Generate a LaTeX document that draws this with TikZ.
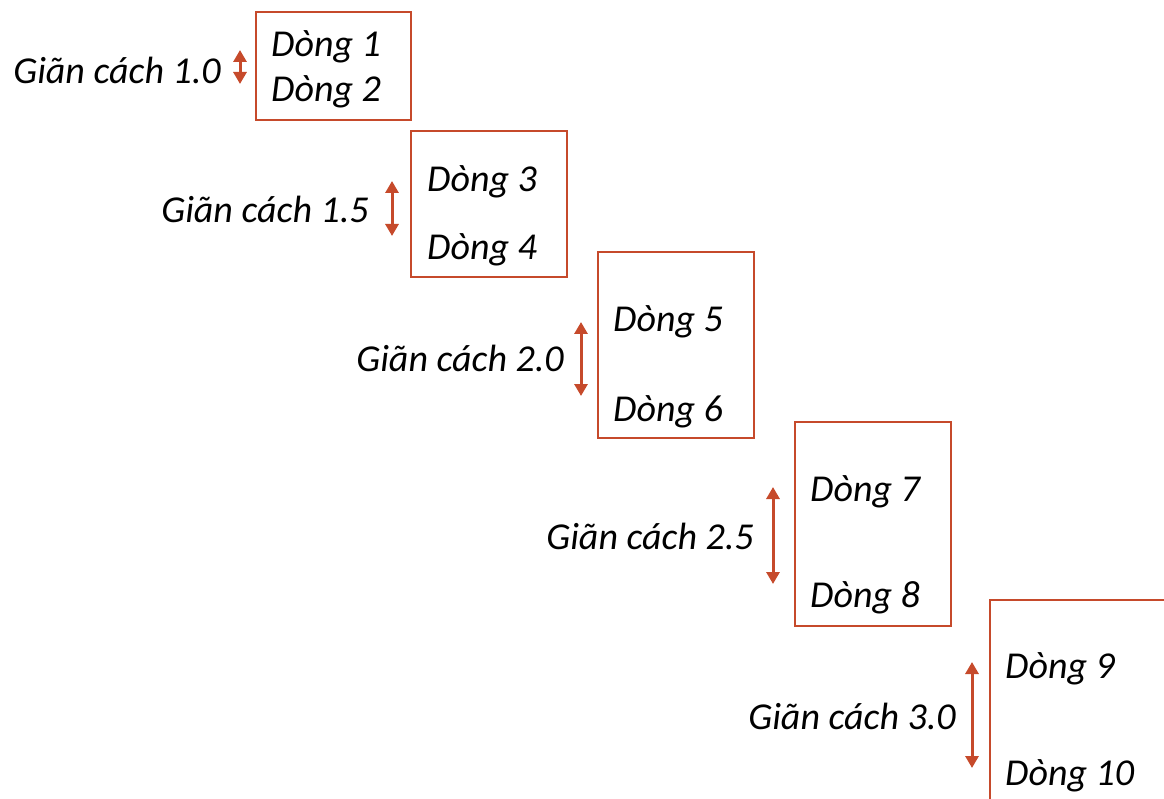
\documentclass[tikz,border=0pt]{standalone}
\usepackage{fontspec}
\setmainfont{Carlito}
\usetikzlibrary{arrows.meta}
\definecolor{accent}{HTML}{C64A2B}
\tikzset{
  box/.style={draw=accent, line width=1.6pt},
  linetext/.style={anchor=west, inner sep=0pt, font=\fontsize{38}{45}\selectfont\itshape},
  gaptext/.style={anchor=east, inner sep=0pt, font=\fontsize{38}{45}\selectfont\itshape},
  gaparrow/.style={draw=accent, line width=3pt, {Triangle[width=13pt,length=12pt]}-{Triangle[width=13pt,length=12pt]}}
}
\begin{document}
\begin{tikzpicture}[x=1pt,y=-1pt]
\useasboundingbox (0,0) rectangle (1164,799);
\clip (0,0) rectangle (1164,799);
% boxes
\draw[box] (256,12) rectangle (411,120);
\draw[box] (411,131) rectangle (567,277);
\draw[box] (598,252) rectangle (754,438);
\draw[box] (795,422) rectangle (951,626);
\draw[box] (990,600) rectangle (1200,840);
% line texts
\node[linetext] (l1) at (271,47) {Dòng 1};
\node[linetext] (l2) at (271,92) {Dòng 2};
\node[linetext] (l3) at (427,182) {Dòng 3};
\node[linetext] (l4) at (427,250) {Dòng 4};
\node[linetext] (l5) at (613,322) {Dòng 5};
\node[linetext] (l6) at (613,412) {Dòng 6};
\node[linetext] (l7) at (810,492) {Dòng 7};
\node[linetext] (l8) at (810,598) {Dòng 8};
\node[linetext] (l9) at (1005,669) {Dòng 9};
\node[linetext] (l10) at (1005,776) {Dòng 10};
% gap labels
\node[gaptext] (g1) at (221,70) {Giãn cách 1.0};
\node[gaptext] (g2) at (369,209) {Giãn cách 1.5};
\node[gaptext] (g3) at (564,358) {Giãn cách 2.0};
\node[gaptext] (g4) at (754,536) {Giãn cách 2.5};
\node[gaptext] (g5) at (956,716) {Giãn cách 3.0};
% arrows
\coordinate (a1t) at (240,50); \coordinate (a1b) at (240,84);
\coordinate (a2t) at (392,181); \coordinate (a2b) at (392,236);
\coordinate (a3t) at (581,322); \coordinate (a3b) at (581,396);
\coordinate (a4t) at (773,487); \coordinate (a4b) at (773,584);
\coordinate (a5t) at (972,662); \coordinate (a5b) at (972,768);
\draw[gaparrow] (a1t) -- (a1b);
\draw[gaparrow] (a2t) -- (a2b);
\draw[gaparrow] (a3t) -- (a3b);
\draw[gaparrow] (a4t) -- (a4b);
\draw[gaparrow] (a5t) -- (a5b);
\end{tikzpicture}
\end{document}
